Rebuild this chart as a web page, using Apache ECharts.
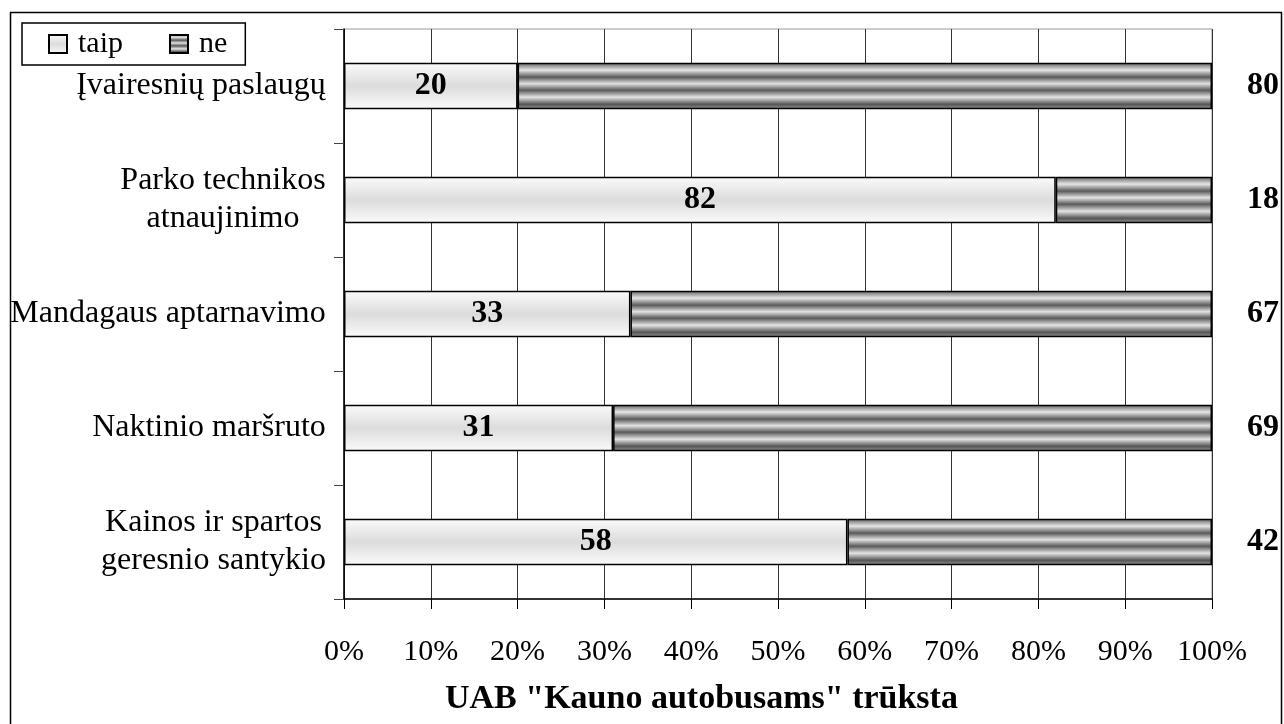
<!DOCTYPE html>
<html>
<head>
<meta charset="utf-8">
<script src="https://cdn.jsdelivr.net/npm/echarts@6/dist/echarts.min.js"></script>
<style>
  html, body { margin: 0; padding: 0; background: #fff; }
  #chart { width: 1284px; height: 724px; }
</style>
</head>
<body>
<div id="chart"></div>
<script>
// Survey answers: share of "taip" / "ne" per missing service
const categories = [
  'Įvairesnių paslaugų',
  'Parko technikos\natnaujinimo',
  'Mandagaus aptarnavimo',
  'Naktinio maršruto',
  'Kainos ir spartos\ngeresnio santykio'
];
const taipValues = [20, 82, 33, 31, 58];
const neValues = [80, 18, 67, 69, 42];
const xTickValues = [0, 10, 20, 30, 40, 50, 60, 70, 80, 90, 100];
const seriesNames = ['taip', 'ne'];
const axisTitle = 'UAB "Kauno autobusams" trūksta';

const SERIF = '"Liberation Serif", "DejaVu Serif", serif';
const CAT_FONT = 32;

// Multi-line category labels: each line centred within the label's own width
const measure = document.createElement('canvas').getContext('2d');
measure.font = CAT_FONT + 'px "Liberation Serif"';
const rich = {};
categories.forEach((c, i) => {
  const w = Math.max(...c.split('\n').map(l => measure.measureText(l).width));
  rich['c' + i] = { width: Math.ceil(w), align: 'center', fontSize: CAT_FONT, fontFamily: SERIF, color: '#000', lineHeight: 38 };
});

const lightFill = {
  type: 'linear', x: 0, y: 0, x2: 0, y2: 1,
  colorStops: [
    { offset: 0, color: '#fbfbfb' },
    { offset: 0.5, color: '#dcdcdc' },
    { offset: 1, color: '#fbfbfb' }
  ]
};
const stripeFill = {
  type: 'linear', x: 0, y: 0, x2: 0, y2: 1,
  colorStops: [
    { offset: 0.00, color: '#5c5c5c' },
    { offset: 0.16, color: '#e6e6e6' },
    { offset: 0.31, color: '#5a5a5a' },
    { offset: 0.45, color: '#e2e2e2' },
    { offset: 0.59, color: '#5a5a5a' },
    { offset: 0.74, color: '#e4e4e4' },
    { offset: 0.89, color: '#555555' },
    { offset: 1.00, color: '#9a9a9a' }
  ]
};

const chart = echarts.init(document.getElementById('chart'), null, { renderer: 'canvas' });
chart.setOption({
  animation: false,
  backgroundColor: '#fff',
  textStyle: { fontFamily: SERIF },
  graphic: [{
    type: 'rect',
    shape: { x: 10.5, y: 12.5, width: 1271, height: 730 },
    style: { fill: null, stroke: '#000', lineWidth: 1.5 },
    silent: true, z: -1
  }],
  title: {
    text: axisTitle,
    left: 440,
    top: 677,
    textStyle: { fontFamily: SERIF, fontSize: 34, fontWeight: 'bold', color: '#000' }
  },
  legend: {
    left: 22,
    top: 23,
    orient: 'horizontal',
    data: seriesNames,
    borderColor: '#000',
    borderWidth: 1.5,
    borderRadius: 0,
    padding: [6, 18, 6, 26],
    itemWidth: 18,
    itemHeight: 18,
    itemGap: 46,
    icon: 'rect',
    textStyle: { fontFamily: SERIF, fontSize: 30, color: '#000', padding: [0, 0, 0, 6] }
  },
  grid: {
    left: 344, right: 72, top: 29, bottom: 125,
    show: true, borderColor: '#999', borderWidth: 1, backgroundColor: 'transparent'
  },
  xAxis: {
    type: 'value',
    min: 0, max: 100, interval: 10,
    axisLine: { show: true, lineStyle: { color: '#000', width: 1.5 } },
    axisTick: { show: true, length: 10, lineStyle: { color: '#000' } },
    splitLine: { show: true, lineStyle: { color: '#333', width: 1 } },
    axisLabel: {
      margin: 38,
      fontSize: 30, fontFamily: SERIF, color: '#000',
      formatter: v => xTickValues.includes(v) ? v + '%' : ''
    }
  },
  yAxis: {
    type: 'category',
    inverse: true,
    data: categories,
    axisLine: { show: true, lineStyle: { color: '#000', width: 1.5 } },
    axisTick: { show: true, length: 10, alignWithLabel: false, lineStyle: { color: '#444' } },
    splitLine: { show: false },
    axisLabel: {
      margin: 18,
      formatter: (v, i) => v.split('\n').map(l => '{c' + i + '|' + l + '}').join('\n'),
      rich: rich
    }
  },
  series: [
    {
      name: seriesNames[0],
      type: 'bar',
      stack: 'total',
      data: taipValues,
      barCategoryGap: '59%',
      itemStyle: { color: lightFill, borderColor: '#000', borderWidth: 1.5 },
      label: {
        show: true, position: 'inside',
        fontFamily: SERIF, fontSize: 32, fontWeight: 'bold', color: '#000'
      }
    },
    {
      name: seriesNames[1],
      type: 'bar',
      stack: 'total',
      data: neValues,
      barCategoryGap: '59%',
      itemStyle: { color: stripeFill, borderColor: '#000', borderWidth: 1.5 },
      label: {
        show: true, position: 'right', distance: 35,
        fontFamily: SERIF, fontSize: 32, fontWeight: 'bold', color: '#000'
      }
    }
  ]
});
</script>
</body>
</html>
